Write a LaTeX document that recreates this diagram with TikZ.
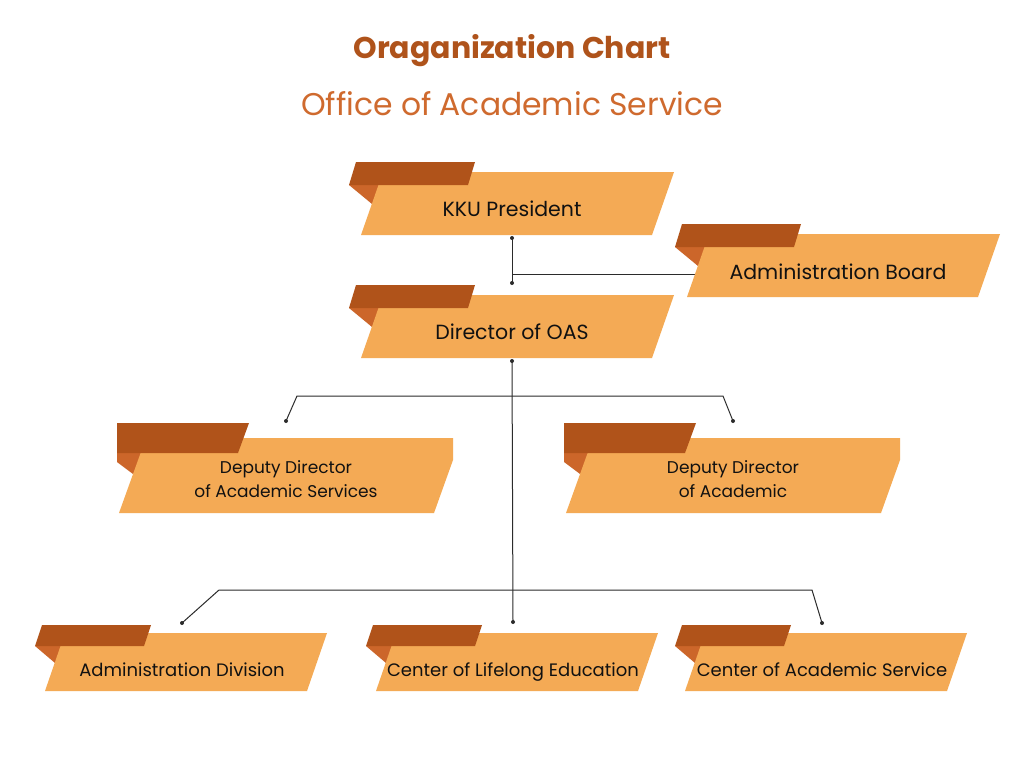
\documentclass[tikz,border=0pt]{standalone}
\usepackage{fontspec}
\setmainfont{Poppins}
\usepackage{tikz}
\usetikzlibrary{positioning,backgrounds}
\definecolor{boxfill}{HTML}{F4AA55}
\definecolor{tabfill}{HTML}{B0531A}
\definecolor{foldfill}{HTML}{CC662A}
\definecolor{headA}{HTML}{AF531B}
\definecolor{headB}{HTML}{CF6A2E}
\definecolor{ink}{HTML}{111111}
\definecolor{wire}{HTML}{2B2B2B}

\begin{document}
\begin{tikzpicture}[x=1pt,y=-1pt,
		big/.style={text=ink,font=\fontsize{20.5}{25}\selectfont,text height=1.5ex,text depth=.3ex},
		small/.style={text=ink,font=\fontsize{18}{24}\selectfont,text height=1.5ex,text depth=.3ex},
		twoline/.style={text=ink,font=\fontsize{17}{24}\selectfont,align=center},
		link/.style={draw=wire,line width=1pt}]
		\useasboundingbox (0,0) rectangle (1024,768);
		\node[text=headA,font=\bfseries\fontsize{30}{34}\selectfont] (title) at (512,51) {Oraganization Chart};
		\node[text=headB,font=\fontsize{31.4}{36}\selectfont] (subtitle) at (512,104) {Office of Academic Service};
		\node[big] (pres) at (512,213) {KKU President};
		\node[big] (dir) at (512,336) {Director of OAS};
		\node[big] (board) at (838,276) {Administration Board};
		\node[twoline] (depL) at (286,479) {Deputy Director\\of Academic Services};
		\node[twoline] (depR) at (733,479) {Deputy Director\\of Academic};
		\node[small] (adm) at (182,673) {Administration Division};
		\node[small] (life) at (513,673) {Center of Lifelong Education};
		\node[small] (acs) at (822,673) {Center of Academic Service};
		\coordinate[below=25pt of pres.center] (presS);
		\coordinate[above=53pt of dir.center] (dirN);
		\coordinate[below=25pt of dir.center] (dirS);
		\coordinate[above=58pt of depL.center] (depLN);
		\coordinate[above=58pt of depR.center] (depRN);
		\coordinate[above=50pt of adm.center] (admN);
		\coordinate[above=51pt of life.center] (lifeN);
		\coordinate[above=50pt of acs.center] (acsN);
		\begin{scope}[on background layer]
			\fill[white] (0,0) rectangle (1024,768);
			\draw[link] (presS) -- (dirN);
			\draw[link] ([yshift=2pt]presS |- board.west) -- ([yshift=2pt]board.west);
			\draw[link] (dirS) -- (lifeN);
			\draw[link] (depLN) -- ++(11,-25) -- ([xshift=-10pt,yshift=25pt]depRN) -- (depRN);
			\draw[link] (admN) -- ++(37,-33) -- ([xshift=-10pt,yshift=33pt]acsN) -- (acsN);
			\foreach \x/\y in {361/235,361/358,687/297}{
				\fill[foldfill] (\x-12,\y-50) -- ++(40,0) -- (\x+11,\y-31) -- cycle;
				\fill[boxfill] (\x,\y) -- ++(291,0) -- ++(22,-63) -- ++(-291,0) -- cycle;
				\fill[tabfill] (\x-12,\y-50) -- ++(119,0) -- ++(7,-23) -- ++(-119,0) -- cycle;
			}
			\foreach \x in {119,566}{
				\fill[foldfill] (\x-2,453) -- ++(40,0) -- (\x+14,474) -- (\x-2,462) -- cycle;
				\fill[boxfill] (\x,513) -- ++(315,0) -- ++(19,-53) -- ++(0,-22) -- (\x+27,438) -- cycle;
				\fill[tabfill] (\x-2,423) -- ++(132,0) -- ++(-11,30) -- (\x-2,453) -- cycle;
			}
			\foreach \x in {45,376,685}{
				\fill[foldfill] (\x-10,646) -- ++(40,0) -- (\x+10,663) -- cycle;
				\fill[boxfill] (\x,691) -- ++(262,0) -- ++(20,-58) -- ++(-262,0) -- cycle;
				\fill[tabfill] (\x-10,646) -- ++(109,0) -- ++(7,-21) -- ++(-109,0) -- cycle;
			}
		\end{scope}
		\foreach \p in {presS,dirN,dirS,depLN,depRN,admN,lifeN,acsN}
			\fill[wire] (\p) circle (2pt);
\end{tikzpicture}
\end{document}
